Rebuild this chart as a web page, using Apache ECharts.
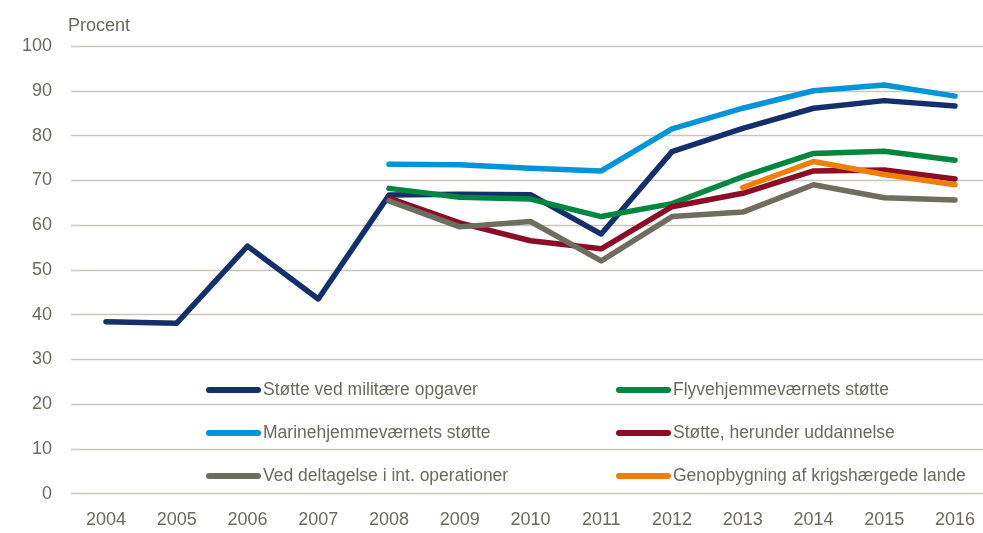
<!DOCTYPE html>
<html>
<head>
<meta charset="utf-8">
<script src="https://cdn.jsdelivr.net/npm/echarts@6/dist/echarts.min.js"></script>
<style>
html,body{margin:0;padding:0;background:#fff;}
#chart{width:983px;height:533px;}
</style>
</head>
<body>
<div id="chart"></div>
<script>
var years = ['2004','2005','2006','2007','2008','2009','2010','2011','2012','2013','2014','2015','2016'];
var yTicks = [0,10,20,30,40,50,60,70,80,90,100];
var seriesNames = [
  'Støtte ved militære opgaver',
  'Flyvehjemmeværnets støtte',
  'Marinehjemmeværnets støtte',
  'Støtte, herunder uddannelse',
  'Ved deltagelse i int. operationer',
  'Genopbygning af krigshærgede lande'
];
var militaere = [38.4, 38.1, 55.3, 43.5, 66.7, 66.9, 66.8, 58.0, 76.4, 81.6, 86.1, 87.8, 86.6];
var flyve     = [null, null, null, null, 68.2, 66.2, 65.8, 61.9, 64.8, 70.8, 76.0, 76.5, 74.5];
var marine    = [null, null, null, null, 73.6, 73.5, 72.7, 72.1, 81.5, 86.1, 90.0, 91.3, 88.8];
var uddannelse= [null, null, null, null, 66.0, 60.5, 56.5, 54.7, 64.1, 67.1, 72.1, 72.3, 70.3];
var deltagelse= [null, null, null, null, 65.4, 59.6, 60.8, 52.0, 61.9, 62.9, 69.0, 66.1, 65.6];
var genopbyg  = [null, null, null, null, null, null, null, null, null, 68.4, 74.2, 71.3, 69.0];
var colors = ['#13306b','#00873f','#0095d9','#8b0d26','#6f6e5e','#f07f09'];

var chart = echarts.init(document.getElementById('chart'), null, {renderer:'canvas'});
var dataList = [militaere, flyve, marine, uddannelse, deltagelse, genopbyg];
var drawOrder = [0,2,1,3,4,5];
var series = drawOrder.map(function(i){
  return {
    name: seriesNames[i], type:'line', data: dataList[i],
    xAxisIndex:1, yAxisIndex:1,
    showSymbol:false, symbol:'none', connectNulls:false,
    lineStyle:{width:5.5, color:colors[i], cap:'round', join:'round'},
    itemStyle:{color:colors[i]},
    emphasis:{disabled:true}, animation:false, z: 2 + i
  };
});
var txt = '#6b6a5c';
var font = '"Liberation Sans Narrow", "Arial Narrow", "Liberation Sans", Arial, sans-serif';
var capsule = 'path://M3,0 L52,0 A3,3 0 0 1 52,6 L3,6 A3,3 0 0 1 3,0 Z';
function legend(items, left){
  return {
    data: items.map(function(n){return {name:n, icon:capsule};}),
    orient:'vertical', left:left, top:379, padding:0, itemWidth:55, itemHeight:6,
    itemGap:21, selectedMode:false,
    textStyle:{color:txt, fontSize:17.5, fontFamily:font, lineHeight:22, padding:[0,0,0,-3]}
  };
}
chart.setOption({
  animation:false,
  color: colors,
  grid:[
    {left:71, right:0, top:46, bottom:39.3, containLabel:false},
    {left:106, right:28, top:46, bottom:39.3, containLabel:false}
  ],
  title:{text:'Procent', left:63, top:12, padding:[5,5,5,5], textStyle:{color:txt, fontSize:18, fontWeight:'normal', fontFamily:font}},
  legend:[
    legend([seriesNames[0], seriesNames[2], seriesNames[4]], 206),
    legend([seriesNames[1], seriesNames[3], seriesNames[5]], 616)
  ],
  xAxis:[
    {type:'category', gridIndex:0, data:years, show:false},
    {type:'category', gridIndex:1, data:years, boundaryGap:false,
      axisLine:{show:false}, axisTick:{show:false}, splitLine:{show:false},
      axisLabel:{color:txt, fontSize:18, fontFamily:font, margin:17}}
  ],
  yAxis:[
    {type:'value', gridIndex:0, min:0, max:100, interval:10,
      axisLine:{show:false}, axisTick:{show:false},
      splitLine:{lineStyle:{color:'#c9c7bb', width:1.3}},
      axisLabel:{color:txt, fontSize:18, fontFamily:font, margin:19}},
    {type:'value', gridIndex:1, min:0, max:100, interval:10, show:false, splitLine:{show:false}}
  ],
  series: series
});
</script>
</body>
</html>
